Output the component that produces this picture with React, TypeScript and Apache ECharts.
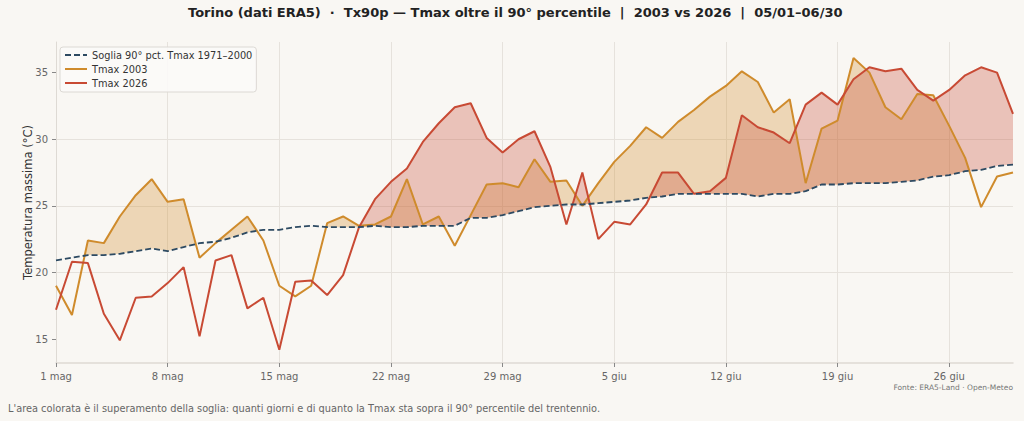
import React, { useEffect, useRef } from "react";
import * as echarts from "echarts";

// ---- Data ----
const MONTHS = [
  { name: "mag", days: 31 },
  { name: "giu", days: 30 },
];
const DATES: string[] = MONTHS.flatMap((m) =>
  Array.from({ length: m.days }, (_, k) => `${k + 1} ${m.name}`)
);

const THRESH = [
  20.9, 21.1, 21.3, 21.3, 21.4, 21.6, 21.8, 21.6, 21.9, 22.2, 22.3,
  22.6, 23.0, 23.2, 23.2, 23.4, 23.5, 23.4, 23.4, 23.4, 23.5,
  23.4, 23.4, 23.5, 23.5, 23.5, 24.1, 24.1, 24.3, 24.6, 24.9,
  25.0, 25.1, 25.1, 25.2, 25.3, 25.4, 25.6, 25.7, 25.9, 25.9,
  25.9, 25.9, 25.9, 25.7, 25.9, 25.9, 26.1, 26.6, 26.6, 26.7,
  26.7, 26.7, 26.8, 26.9, 27.2, 27.3, 27.6, 27.7, 28.0, 28.1,
];

const TMAX_2003 = [
  19.0, 16.8, 22.4, 22.2, 24.2, 25.8, 27.0, 25.3, 25.5, 21.1, 22.2,
  23.2, 24.2, 22.4, 19.0, 18.2, 19.0, 23.7, 24.2, 23.5, 23.6,
  24.2, 27.0, 23.6, 24.2, 22.0, 24.3, 26.6, 26.7, 26.4, 28.5,
  26.8, 26.9, 25.0, 26.7, 28.3, 29.5, 30.9, 30.1, 31.3, 32.2,
  33.2, 34.0, 35.1, 34.3, 32.0, 33.0, 26.7, 30.8, 31.4, 36.1,
  35.0, 32.4, 31.5, 33.4, 33.3, 31.0, 28.6, 24.9, 27.2, 27.5,
];

const TMAX_2026 = [
  17.2, 20.8, 20.7, 16.9, 14.9, 18.1, 18.2, 19.2, 20.4, 15.2, 20.9,
  21.3, 17.3, 18.1, 14.2, 19.3, 19.4, 18.3, 19.8, 23.4, 25.5,
  26.8, 27.8, 29.8, 31.2, 32.4, 32.7, 30.1, 29.0, 30.0, 30.6,
  27.9, 23.6, 27.5, 22.5, 23.8, 23.6, 25.1, 27.5, 27.5, 25.9,
  26.1, 27.1, 31.8, 30.9, 30.5, 29.7, 32.6, 33.5, 32.6, 34.5,
  35.4, 35.1, 35.3, 33.7, 32.9, 33.7, 34.8, 35.4, 35.0, 31.9,
];

const Y_TICKS = [15, 20, 25, 30, 35];

const TITLE =
  "Torino (dati ERA5)  \u00b7  Tx90p \u2014 Tmax oltre il 90\u00b0 percentile  |  2003 vs 2026  |  05/01\u201306/30";
const Y_NAME = "Temperatura massima (\u00b0C)";
const NAME_THR = "Soglia 90\u00b0 pct. Tmax 1971\u20132000";
const NAME_2003 = "Tmax 2003";
const NAME_2026 = "Tmax 2026";
const SOURCE = "Fonte: ERA5-Land \u00b7 Open-Meteo";
const FOOTER =
  "L'area colorata \u00e8 il superamento della soglia: quanti giorni e di quanto la Tmax sta sopra il 90\u00b0 percentile del trentennio.";

const C_THR = "#2d4a62";
const C_2003 = "#cf8b2c";
const C_2026 = "#c84a34";
const BG = "#f9f7f3";
const FONT = "DejaVu Sans";

function fillRenderer(vals: number[], color: string) {
  return (_params: any, api: any) => {
    const n = vals.length;
    const polys: number[][][] = [];
    let top: number[][] = [];
    let bot: number[][] = [];
    for (let i = 0; i < n; i++) {
      const d = vals[i] - THRESH[i];
      if (d >= 0) {
        top.push(api.coord([i, vals[i]]));
        bot.push(api.coord([i, THRESH[i]]));
      }
      if (i < n - 1) {
        const d2 = vals[i + 1] - THRESH[i + 1];
        if (d >= 0 !== d2 >= 0) {
          const t = d / (d - d2);
          const a = api.coord([i, vals[i]]);
          const b = api.coord([i + 1, vals[i + 1]]);
          const c = [a[0] + t * (b[0] - a[0]), a[1] + t * (b[1] - a[1])];
          top.push(c);
          bot.push(c);
          if (d >= 0) {
            polys.push(top.concat(bot.slice().reverse()));
            top = [];
            bot = [];
          }
        }
      }
    }
    if (top.length > 1) polys.push(top.concat(bot.slice().reverse()));
    return {
      type: "group",
      children: polys.map((p) => ({
        type: "polygon",
        shape: { points: p },
        style: { fill: color, stroke: null },
      })),
    };
  };
}

export default function App() {
  const ref = useRef<HTMLDivElement>(null);
  useEffect(() => {
    document.body.style.margin = "0";
    document.body.style.background = BG;
    if (!ref.current) return;
    const chart = echarts.init(ref.current, undefined, { renderer: "svg" });
    chart.setOption({
      animation: false,
      backgroundColor: BG,
      textStyle: { fontFamily: FONT },
      title: {
        text: TITLE,
        left: 188,
        top: 6,
        padding: 0,
        textStyle: { fontFamily: FONT, fontSize: 13, fontWeight: "bold", color: "#222" },
      },
      legend: {
        data: [NAME_THR, NAME_2003, NAME_2026],
        orient: "vertical",
        left: 60,
        top: 47,
        padding: [2, 4, 3, 4],
        itemGap: 2,
        itemWidth: 22,
        itemHeight: 10,
        itemStyle: { opacity: 0 },
        backgroundColor: "rgba(251,250,248,0.9)",
        borderColor: "#dcd9d4",
        borderWidth: 1,
        borderRadius: 3,
        textStyle: { fontFamily: FONT, fontSize: 9.8, color: "#333", lineHeight: 12 },
      },
      grid: { left: 56, right: 11, top: 42, bottom: 58 },
      xAxis: {
        type: "category",
        data: DATES,
        boundaryGap: false,
        axisLine: { show: true, lineStyle: { color: "#dedad4", width: 1.5 } },
        axisTick: { show: true, interval: 6, length: 4, lineStyle: { color: "#888" } },
        axisLabel: { interval: 6, color: "#666", fontSize: 10, margin: 8, fontFamily: FONT },
        splitLine: { show: true, interval: 6, lineStyle: { color: "#e6e2dc", width: 1 } },
      },
      yAxis: {
        type: "value",
        min: 13.2,
        max: 37.3,
        name: Y_NAME,
        nameLocation: "middle",
        nameGap: 22,
        nameMoveOverlap: false,
        nameTextStyle: { fontFamily: FONT, fontSize: 11.5, color: "#333" },
        axisLine: { show: true, lineStyle: { color: "#dedad4", width: 1 } },
        axisTick: { show: true, length: 4, customValues: Y_TICKS, lineStyle: { color: "#888" } },
        axisLabel: { customValues: Y_TICKS, color: "#666", fontSize: 10, margin: 8, fontFamily: FONT },
        splitLine: {
          show: true,
          showMinLine: false,
          showMaxLine: false,
          lineStyle: { color: "#e6e2dc", width: 1 },
        },
      },
      series: [
        {
          type: "custom",
          name: "fill2003",
          renderItem: fillRenderer(TMAX_2003, "rgba(207,139,44,0.3)"),
          data: [[0, THRESH[0]]],
          silent: true,
          z: 1,
        },
        {
          type: "custom",
          name: "fill2026",
          renderItem: fillRenderer(TMAX_2026, "rgba(200,74,52,0.3)"),
          data: [[0, THRESH[0]]],
          silent: true,
          z: 1,
        },
        {
          type: "line",
          name: NAME_2003,
          data: TMAX_2003,
          symbol: "none",
          showSymbol: false,
          lineStyle: { color: C_2003, width: 2 },
          itemStyle: { color: C_2003 },
          z: 3,
        },
        {
          type: "line",
          name: NAME_2026,
          data: TMAX_2026,
          symbol: "none",
          showSymbol: false,
          lineStyle: { color: C_2026, width: 2 },
          itemStyle: { color: C_2026 },
          z: 4,
        },
        {
          type: "line",
          name: NAME_THR,
          data: THRESH,
          symbol: "none",
          showSymbol: false,
          lineStyle: { color: C_THR, width: 1.8, type: [6, 3] },
          itemStyle: { color: C_THR },
          z: 5,
        },
      ],
      graphic: [
        {
          type: "text",
          x: 1013,
          y: 387,
          style: {
            text: SOURCE,
            fill: "#777",
            font: `7.5px "${FONT}"`,
            align: "right",
            verticalAlign: "middle",
          },
        },
        {
          type: "text",
          x: 8,
          y: 408,
          style: {
            text: FOOTER,
            fill: "#666",
            font: `9.8px "${FONT}"`,
            align: "left",
            verticalAlign: "middle",
          },
        },
      ],
    });
    return () => chart.dispose();
  }, []);
  return <div ref={ref} style={{ width: 1024, height: 421 }} />;
}
